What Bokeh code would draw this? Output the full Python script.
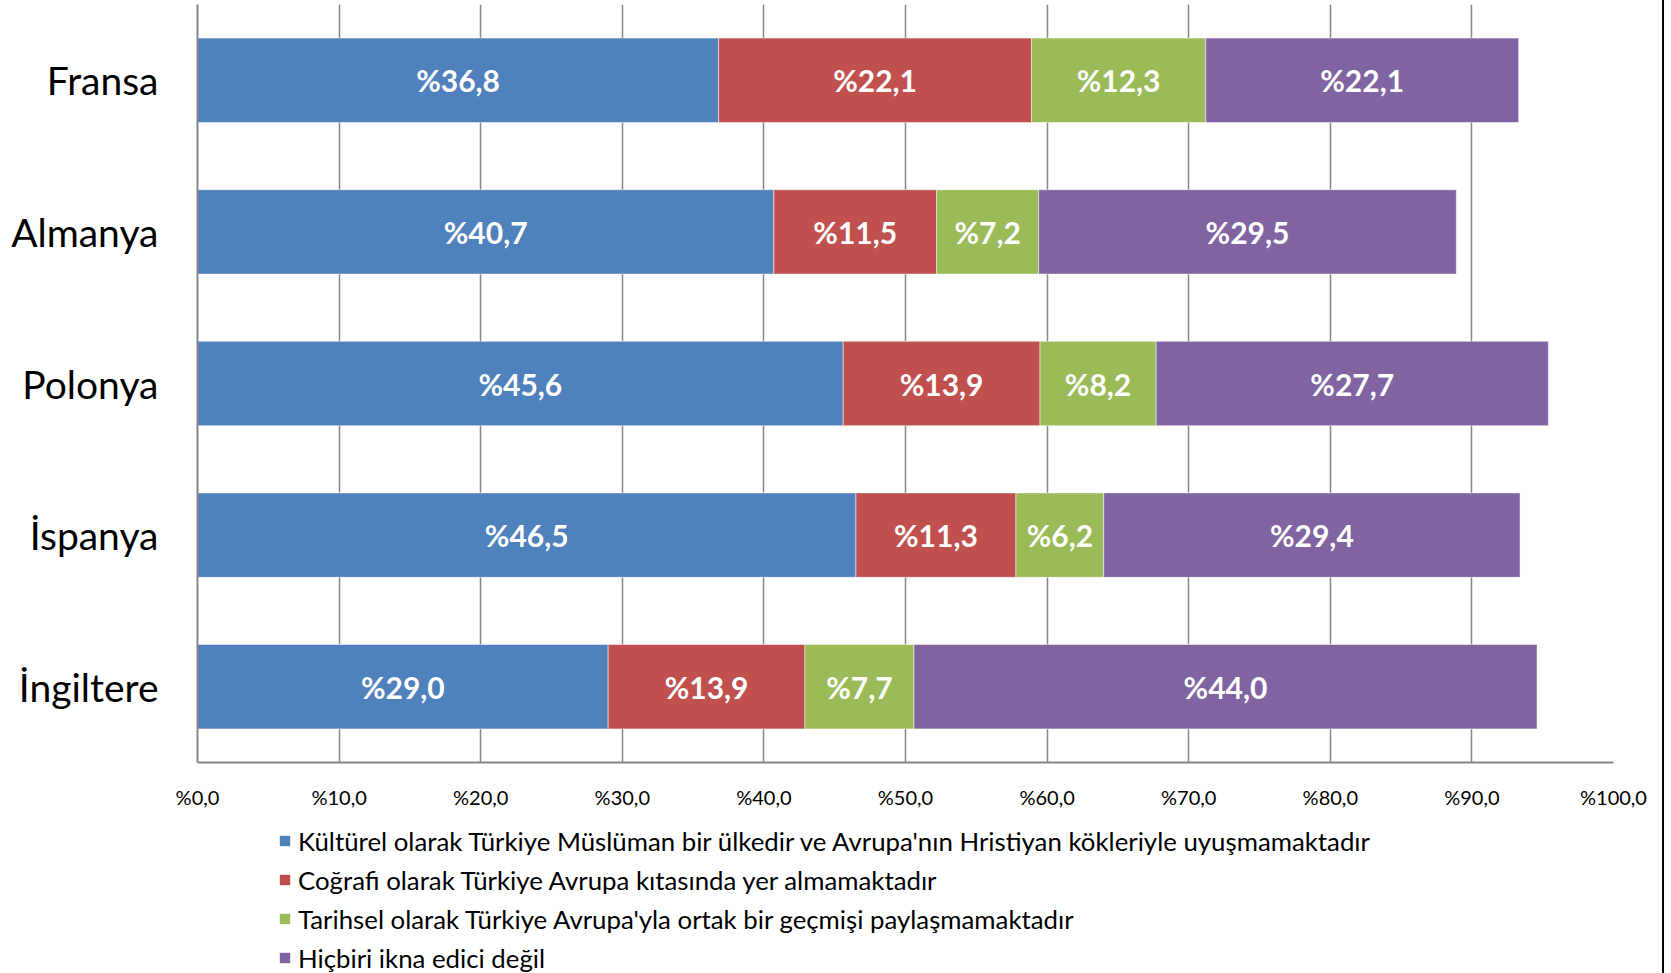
from bokeh.plotting import figure
from bokeh.models import FactorRange, Range1d, FixedTicker, ColumnDataSource, Legend, LegendItem, LabelSet
from bokeh.core.properties import value
from bokeh.layouts import column
from bokeh.embed import file_html
from bokeh.resources import INLINE

countries = ["Fransa", "Almanya", "Polonya", "İspanya", "İngiltere"]
kulturel = [36.8, 40.7, 45.6, 46.5, 29.0]
cografi = [22.1, 11.5, 13.9, 11.3, 13.9]
tarihsel = [12.3, 7.2, 8.2, 6.2, 7.7]
hicbiri = [22.1, 29.5, 27.7, 29.4, 44.0]
series_names = [
    "Kültürel olarak Türkiye Müslüman bir ülkedir ve Avrupa'nın Hristiyan kökleriyle uyuşmamaktadır",
    "Coğrafi olarak Türkiye Avrupa kıtasında yer almamaktadır",
    "Tarihsel olarak Türkiye Avrupa'yla ortak bir geçmişi paylaşmamaktadır",
    "Hiçbiri ikna edici değil",
]
x_ticks = [0, 10, 20, 30, 40, 50, 60, 70, 80, 90, 100]
x_tick_labels = ["%0,0", "%10,0", "%20,0", "%30,0", "%40,0", "%50,0", "%60,0", "%70,0", "%80,0", "%90,0", "%100,0"]
colors = ["#4F81BD", "#C0504D", "#9BBB59", "#8064A2"]

keys = ["k", "c", "t", "h"]
data = {"country": countries, "k": kulturel, "c": cografi, "t": tarihsel, "h": hicbiri}
src = ColumnDataSource(data)

W, H1, H2 = 1664, 815, 158
p = figure(
    width=W, height=H1,
    y_range=FactorRange(factors=list(reversed(countries)), range_padding=0),
    x_range=Range1d(0, 100),
    output_backend="svg", toolbar_location=None,
    min_border_left=197, min_border_right=W - 1613, min_border_top=4, min_border_bottom=H1 - 762,
)
p.outline_line_color = None
p.styles = {"border-right": "2px solid #000000"}

renderers = p.hbar_stack(keys, y="country", height=0.557, color=colors, source=src,
                         line_color="white", line_alpha=0.5, line_width=1)

# labels
lab_x, lab_y, lab_t = [], [], []
for i, c in enumerate(countries):
    cum = 0.0
    for arr in (kulturel, cografi, tarihsel, hicbiri):
        v = arr[i]
        lab_x.append(cum + v / 2)
        lab_y.append(c)
        lab_t.append("%" + f"{v:.1f}".replace(".", ","))
        cum += v
lsrc = ColumnDataSource(dict(x=lab_x, y=lab_y, t=lab_t))
labels = LabelSet(x="x", y="y", text="t", source=lsrc, text_color="white",
                  text_font=value("Lato"), text_font_style="bold", text_font_size="30px",
                  text_align="center", text_baseline="middle")
p.add_layout(labels)

# axes
p.xaxis.ticker = FixedTicker(ticks=x_ticks)
p.xaxis.major_label_overrides = {t: l for t, l in zip(x_ticks, x_tick_labels)}
p.xaxis.major_tick_out = 0
p.xaxis.major_tick_in = 0
p.xaxis.minor_tick_out = 0
p.xaxis.minor_tick_in = 0
p.xaxis.major_label_standoff = 22
p.xaxis.major_label_text_font = "Lato"
p.xaxis.major_label_text_font_size = "20px"
p.xaxis.major_label_text_color = "black"
p.xaxis.axis_line_color = "#868686"
p.xaxis.axis_line_width = 2

p.yaxis.major_tick_out = 0
p.yaxis.major_tick_in = 0
p.yaxis.major_label_standoff = 39
p.yaxis.major_label_text_font = "Lato"
p.yaxis.major_label_text_font_size = "39px"
p.yaxis.major_label_text_color = "black"
p.yaxis.axis_line_color = "#868686"
p.yaxis.axis_line_width = 2

p.xgrid.grid_line_color = "#868686"
p.xgrid.grid_line_width = 1.5
p.ygrid.grid_line_color = None

# legend figure (hidden series; only the legend shows)
p2 = figure(width=W, height=H2, x_range=Range1d(-2, -1),
            y_range=FactorRange(factors=list(reversed(countries))),
            x_axis_type=None, y_axis_type=None, output_backend="svg", toolbar_location=None,
            min_border_left=0, min_border_right=0, min_border_top=0, min_border_bottom=0)
p2.outline_line_color = None
p2.grid.visible = False
p2.styles = {"border-right": "2px solid #000000"}
leg_r = p2.hbar_stack(keys, y="country", height=0.5, fill_color=colors, line_color=None,
                      source=src, visible=False)
items = [LegendItem(label=n, renderers=[r]) for n, r in zip(series_names, leg_r)]
legend = Legend(items=items, location=(81, 0), orientation="vertical",
                label_text_font="Lato", label_text_font_size="25.8px", label_text_color="black",
                label_height=31, glyph_height=13, glyph_width=13, spacing=8,
                label_standoff=7, padding=0, margin=0, border_line_color=None,
                background_fill_alpha=0, click_policy="none")
p2.add_layout(legend, "center")

layout = column(p, p2, spacing=0)
open("out.html", "w").write(file_html(layout, INLINE))
